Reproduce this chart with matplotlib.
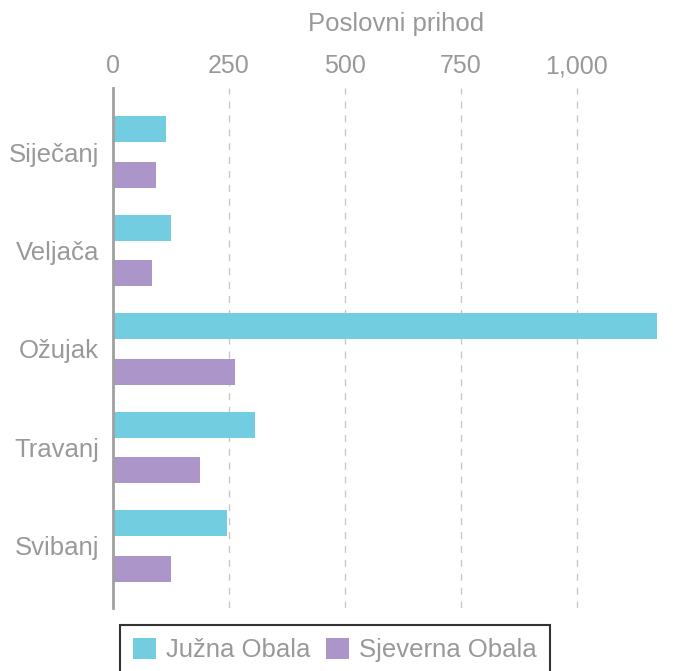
import matplotlib
matplotlib.use("Agg")
import matplotlib.pyplot as plt
import numpy as np
from matplotlib.ticker import FuncFormatter

months = ["Siječanj", "Veljača", "Ožujak", "Travanj", "Svibanj"]
juzna = [114, 125, 1172, 306, 246]
sjeverna = [93, 84, 264, 187, 125]
series_names = ["Južna Obala", "Sjeverna Obala"]

c_juzna = "#72CDE0"
c_sjev = "#AC96C9"
grey = "#999999"

plt.rcParams["font.family"] = ["Liberation Sans", "DejaVu Sans"]

fig = plt.figure(figsize=(6.94, 6.71), dpi=100)
ax = fig.add_axes([113 / 694, 1 - 608 / 671, (680 - 113) / 694, 520 / 671])

y = np.arange(len(months))
h = 0.265
b1 = ax.barh(y - 0.232, juzna, height=h, color=c_juzna, label=series_names[0])
b2 = ax.barh(y + 0.232, sjeverna, height=h, color=c_sjev, label=series_names[1])

ax.set_xlim(0, 1222)
ax.set_ylim(4.63, -0.65)
ax.set_yticks(y)
ax.set_yticklabels(months)
ax.set_xticks([0, 250, 500, 750, 1000])
ax.xaxis.set_major_formatter(FuncFormatter(lambda v, p: f"{int(v):,}"))
ax.xaxis.tick_top()
ax.xaxis.set_label_position("top")
ax.set_xlabel("Poslovni prihod", color=grey, fontsize=18.5, labelpad=17)

ax.tick_params(axis="x", length=0, labelcolor=grey, labelsize=18, pad=7)
ax.tick_params(axis="y", length=0, labelcolor=grey, labelsize=18.5, pad=10)

for s in ["top", "right", "bottom"]:
    ax.spines[s].set_visible(False)
ax.spines["left"].set_color("#a0a0a0")
ax.spines["left"].set_linewidth(2)

ax.grid(axis="x", linestyle=(0, (5, 5)), color="#c8c8c8", linewidth=1)
ax.set_axisbelow(True)

leg = fig.legend(handles=[b1, b2], loc="upper left",
                 bbox_to_anchor=(120 / 694, 1 - 625 / 671), ncol=2,
                 frameon=True, fancybox=False, fontsize=18.5,
                 handlelength=0.9, handleheight=0.9, handletextpad=0.4,
                 columnspacing=0.6, borderpad=0.5, borderaxespad=0)
leg.get_frame().set_edgecolor("black")
leg.get_frame().set_linewidth(1.5)
for t in leg.get_texts():
    t.set_color(grey)

fig.savefig("out.png", dpi=100)
